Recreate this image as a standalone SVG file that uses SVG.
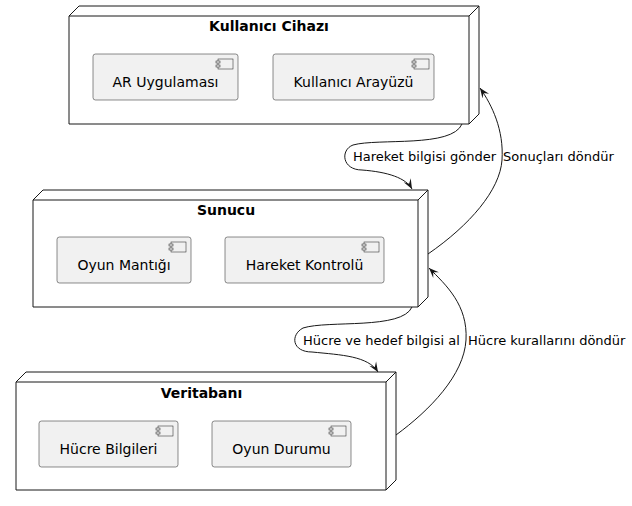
<svg xmlns="http://www.w3.org/2000/svg" width="632" height="506" viewBox="0 0 632 506">
<style>
.node{fill:#FFFFFF;stroke:#181818;stroke-width:1}
.comp{fill:#F1F1F1;stroke:#181818;stroke-width:0.5}
.icon{fill:#F1F1F1;stroke:#181818;stroke-width:0.5}
.title{font-family:"DejaVu Sans",sans-serif;font-size:14px;font-weight:bold;text-anchor:middle;fill:#000}
.ctext{font-family:"DejaVu Sans",sans-serif;font-size:14px;text-anchor:middle;fill:#000}
.elabel{font-family:"DejaVu Sans",sans-serif;font-size:13px;fill:#000}
.edge{fill:none;stroke:#181818;stroke-width:1}
</style>
<defs>
<marker id="arr" viewBox="0 0 10 10" refX="10" refY="5" markerWidth="10" markerHeight="10" markerUnits="userSpaceOnUse" orient="auto">
<path d="M0,1 L10,5 L0,9 L4,5 Z" fill="#181818"/>
</marker>
</defs>

<g id="node-kullanici-cihazi">
<polygon class="node" points="69,16 79,6 479,6 479,114 469,124 69,124"/>
<line class="edge" x1="469" y1="16" x2="479" y2="6"/>
<line class="edge" x1="69" y1="16" x2="469" y2="16"/>
<line class="edge" x1="469" y1="16" x2="469" y2="124"/>
<text class="title" x="269" y="31">Kullanıcı Cihazı</text>
<g id="comp-ar-uygulamasi">
<rect class="comp" x="93" y="54" width="145" height="46" rx="2.5"/>
<rect class="icon" x="218" y="59" width="15" height="10"/>
<rect class="icon" x="216" y="61" width="4" height="2"/>
<rect class="icon" x="216" y="65" width="4" height="2"/>
<text class="ctext" x="165.5" y="87">AR Uygulaması</text>
</g>
<g id="comp-kullanici-arayuzu">
<rect class="comp" x="273" y="54" width="161" height="46" rx="2.5"/>
<rect class="icon" x="414" y="59" width="15" height="10"/>
<rect class="icon" x="412" y="61" width="4" height="2"/>
<rect class="icon" x="412" y="65" width="4" height="2"/>
<text class="ctext" x="353.5" y="87">Kullanıcı Arayüzü</text>
</g>
</g>

<g id="node-sunucu">
<polygon class="node" points="33,200 43,190 428,190 428,297 418,307 33,307"/>
<line class="edge" x1="418" y1="200" x2="428" y2="190"/>
<line class="edge" x1="33" y1="200" x2="418" y2="200"/>
<line class="edge" x1="418" y1="200" x2="418" y2="307"/>
<text class="title" x="226" y="215">Sunucu</text>
<g id="comp-oyun-mantigi">
<rect class="comp" x="57" y="237" width="134" height="46" rx="2.5"/>
<rect class="icon" x="171" y="242" width="15" height="10"/>
<rect class="icon" x="169" y="244" width="4" height="2"/>
<rect class="icon" x="169" y="248" width="4" height="2"/>
<text class="ctext" x="124" y="270">Oyun Mantığı</text>
</g>
<g id="comp-hareket-kontrolu">
<rect class="comp" x="225" y="237" width="159" height="46" rx="2.5"/>
<rect class="icon" x="364" y="242" width="15" height="10"/>
<rect class="icon" x="362" y="244" width="4" height="2"/>
<rect class="icon" x="362" y="248" width="4" height="2"/>
<text class="ctext" x="304.5" y="270">Hareket Kontrolü</text>
</g>
</g>

<g id="node-veritabani">
<polygon class="node" points="16,382 26,372 396,372 396,480 386,490 16,490"/>
<line class="edge" x1="386" y1="382" x2="396" y2="372"/>
<line class="edge" x1="16" y1="382" x2="386" y2="382"/>
<line class="edge" x1="386" y1="382" x2="386" y2="490"/>
<text class="title" x="201.5" y="398">Veritabanı</text>
<g id="comp-hucre-bilgileri">
<rect class="comp" x="39" y="421" width="139" height="46" rx="2.5"/>
<rect class="icon" x="158" y="426" width="15" height="10"/>
<rect class="icon" x="156" y="428" width="4" height="2"/>
<rect class="icon" x="156" y="432" width="4" height="2"/>
<text class="ctext" x="108.5" y="454">Hücre Bilgileri</text>
</g>
<g id="comp-oyun-durumu">
<rect class="comp" x="212" y="421" width="139" height="46" rx="2.5"/>
<rect class="icon" x="331" y="426" width="15" height="10"/>
<rect class="icon" x="329" y="428" width="4" height="2"/>
<rect class="icon" x="329" y="432" width="4" height="2"/>
<text class="ctext" x="281.5" y="454">Oyun Durumu</text>
</g>
</g>

<g id="connectors">
<path class="edge" marker-end="url(#arr)" d="M462,124 C452,148 378,138 353,145 C340,150 342,170 362,170 C388,172 406,178 412,189"/>
<text class="elabel" x="353" y="161">Hareket bilgisi gönder</text>
<path class="edge" marker-end="url(#arr)" d="M428,254 C470,225 500,190 502,160 C504,130 492,105 480,88"/>
<text class="elabel" x="503" y="161">Sonuçları döndür</text>
<path class="edge" marker-end="url(#arr)" d="M412,307 C402,330 328,320 303,328 C290,335 292,352 312,352 C342,355 368,356 378,372"/>
<text class="elabel" x="303" y="345">Hücre ve hedef bilgisi al</text>
<path class="edge" marker-end="url(#arr)" d="M396,435 C430,410 464,375 466,340 C468,305 446,285 429,268"/>
<text class="elabel" x="468" y="345">Hücre kurallarını döndür</text>
</g>
</svg>
